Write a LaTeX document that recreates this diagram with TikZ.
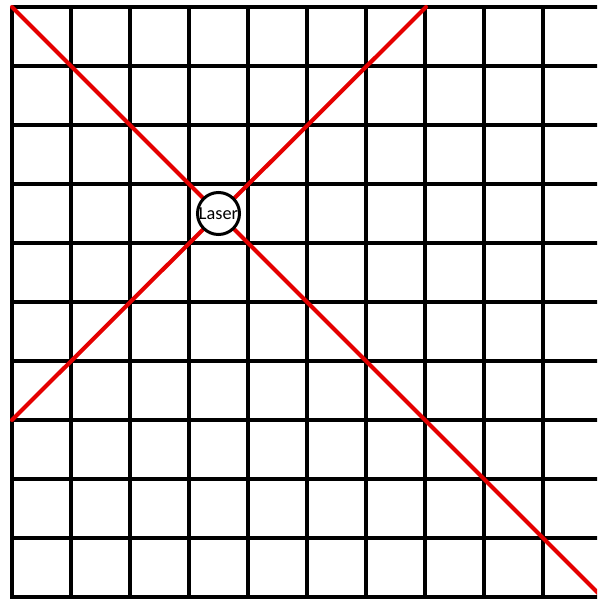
\documentclass[tikz,border=0pt]{standalone}
\usepackage{fontspec}
\setmainfont{Carlito}
\begin{document}
\begin{tikzpicture}[x=0.05cm,y=-0.05cm,
  gridline/.style={line width=4.3pt,black},
  ray/.style={line width=5.8pt,red!90!black},
  lasernode/.style={circle,draw=black,fill=white,line width=4.3pt,minimum size=2.1cm,inner sep=0pt,font=\fontsize{26}{28}\selectfont}]
\useasboundingbox (0,0) rectangle (597,599);
\clip (0,0) rectangle (597,599);
\foreach \k in {0,...,10} {
  \draw[gridline] (12+59*\k,7) -- (12+59*\k,620);
  \draw[gridline] (12,7+59*\k) -- (620,7+59*\k);
}
\coordinate (tl) at (12,7);
\coordinate (br) at (625,620);
\coordinate (bl) at (12,420);
\coordinate (tr) at (426,7);
\draw[ray,line cap=round] (tl) -- (br);
\draw[ray,line cap=round] (bl) -- (tr);
\node[lasernode] (laser) at (218.5,213.5) {Laser};
\end{tikzpicture}
\end{document}
